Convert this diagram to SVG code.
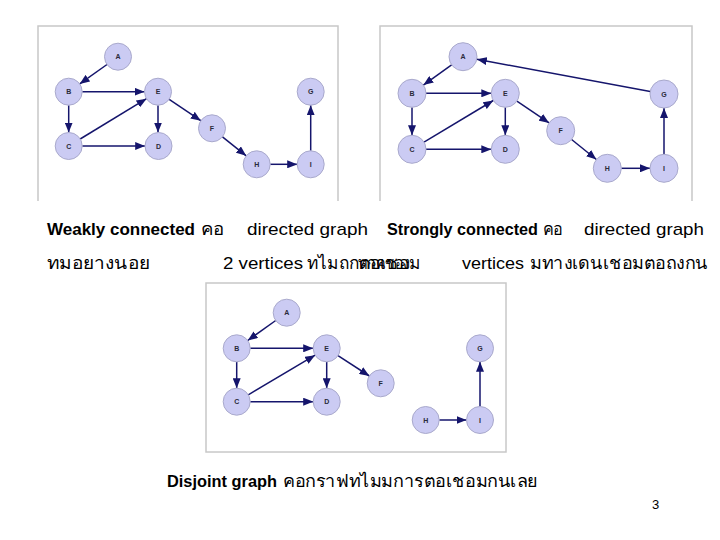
<svg xmlns="http://www.w3.org/2000/svg" width="720" height="540" viewBox="0 0 720 540">
<style>
.frame{fill:none;stroke:#c8c8c8;stroke-width:1.5}
.nd circle{fill:#cbcbf3;stroke:#a9a9cc;stroke-width:1}
.nd text{font-family:"Liberation Sans",Arial,sans-serif;font-size:7px;font-weight:bold;fill:#2a2a3a;text-anchor:middle}
.e line{stroke:#15156c;stroke-width:1.5;marker-end:url(#ah)}
.t{font-family:"Liberation Sans","DejaVu Sans","Noto Sans",sans-serif;font-size:17px;fill:#000}
.b{font-weight:bold;font-size:16px}
</style>
<defs>
<marker id="ah" markerUnits="userSpaceOnUse" markerWidth="10" markerHeight="8" refX="10" refY="4" orient="auto">
<path d="M0,0 L10,4 L0,8 z" fill="#15156c"/>
</marker>
</defs>
<rect width="720" height="540" fill="#fff"/>
<!-- frames -->
<path class="frame" d="M38,201 V26 H338 V201"/>
<path class="frame" d="M380,201 V26 H692 V201"/>
<rect class="frame" x="206" y="283" width="300" height="169"/>

<!-- graph 1 connectors -->
<g id="edges1" class="e">
<line x1="107" y1="64.5" x2="79.7" y2="83.9"/>
<line x1="82.2" y1="91.7" x2="144.5" y2="91.7"/>
<line x1="68.7" y1="105.2" x2="68.7" y2="132.5"/>
<line x1="80.2" y1="139" x2="146.5" y2="98.7"/>
<line x1="82.2" y1="146" x2="145.2" y2="146"/>
<line x1="158" y1="105.2" x2="158" y2="132.5"/>
<line x1="169.2" y1="99.3" x2="200.8" y2="120.7"/>
<line x1="222.5" y1="136.8" x2="246.2" y2="155.8"/>
<line x1="270.2" y1="164.3" x2="297.2" y2="164.3"/>
<line x1="310.7" y1="150.8" x2="310.7" y2="105.2"/>
</g>
<g id="g1A" class="nd"><circle cx="118" cy="56.7" r="13.5"/><text x="118" y="59.2">A</text></g>
<g id="g1B" class="nd"><circle cx="68.7" cy="91.7" r="13.5"/><text x="68.7" y="94.2">B</text></g>
<g id="g1E" class="nd"><circle cx="158" cy="91.7" r="13.5"/><text x="158" y="94.2">E</text></g>
<g id="g1C" class="nd"><circle cx="68.7" cy="146" r="13.5"/><text x="68.7" y="148.5">C</text></g>
<g id="g1D" class="nd"><circle cx="158.5" cy="146" r="13.5"/><text x="158.5" y="148.5">D</text></g>
<g id="g1F" class="nd"><circle cx="212" cy="128.3" r="13.5"/><text x="212" y="130.8">F</text></g>
<g id="g1H" class="nd"><circle cx="256.7" cy="164.3" r="13.5"/><text x="256.7" y="166.8">H</text></g>
<g id="g1I" class="nd"><circle cx="310.7" cy="164.3" r="13.5"/><text x="310.7" y="166.8">I</text></g>
<g id="g1G" class="nd"><circle cx="310.7" cy="91.7" r="13.5"/><text x="310.7" y="94.2">G</text></g>

<!-- graph 2 connectors -->
<g id="edges2" class="e">
<line x1="451.6" y1="64.9" x2="423.4" y2="85.1"/>
<line x1="426" y1="93.3" x2="491.3" y2="93.3"/>
<line x1="412" y1="107.3" x2="412" y2="135.3"/>
<line x1="424" y1="142.1" x2="493.3" y2="100.5"/>
<line x1="426" y1="149.3" x2="491.3" y2="149.3"/>
<line x1="505.3" y1="107.3" x2="505.3" y2="135.3"/>
<line x1="516.9" y1="101.1" x2="549.1" y2="122.9"/>
<line x1="571.6" y1="139.5" x2="596.4" y2="159.5"/>
<line x1="621.3" y1="168.3" x2="650" y2="168.3"/>
<line x1="664" y1="154.3" x2="664" y2="108"/>
<line x1="650.2" y1="91.4" x2="476.8" y2="59.3"/>
</g>
<g id="g2A" class="nd"><circle cx="463" cy="56.7" r="14"/><text x="463" y="59.2">A</text></g>
<g id="g2B" class="nd"><circle cx="412" cy="93.3" r="14"/><text x="412" y="95.8">B</text></g>
<g id="g2E" class="nd"><circle cx="505.3" cy="93.3" r="14"/><text x="505.3" y="95.8">E</text></g>
<g id="g2C" class="nd"><circle cx="412" cy="149.3" r="14"/><text x="412" y="151.8">C</text></g>
<g id="g2D" class="nd"><circle cx="505.3" cy="149.3" r="14"/><text x="505.3" y="151.8">D</text></g>
<g id="g2F" class="nd"><circle cx="560.7" cy="130.7" r="14"/><text x="560.7" y="133.2">F</text></g>
<g id="g2H" class="nd"><circle cx="607.3" cy="168.3" r="14"/><text x="607.3" y="170.8">H</text></g>
<g id="g2I" class="nd"><circle cx="664" cy="168.3" r="14"/><text x="664" y="170.8">I</text></g>
<g id="g2G" class="nd"><circle cx="664" cy="94" r="14"/><text x="664" y="96.5">G</text></g>

<!-- graph 3 connectors -->
<g id="edges3" class="e">
<line x1="275.7" y1="320.5" x2="247.7" y2="340.5"/>
<line x1="250.2" y1="348.3" x2="313.2" y2="348.3"/>
<line x1="236.7" y1="361.8" x2="236.7" y2="388.2"/>
<line x1="248.3" y1="394.8" x2="315.1" y2="355.2"/>
<line x1="250.2" y1="401.7" x2="313.2" y2="401.7"/>
<line x1="326.7" y1="361.8" x2="326.7" y2="388.2"/>
<line x1="338" y1="355.6" x2="369.4" y2="376"/>
<line x1="439.2" y1="420" x2="466.5" y2="420"/>
<line x1="480" y1="406.5" x2="480" y2="361.8"/>
</g>
<g id="g3A" class="nd"><circle cx="286.7" cy="312.7" r="13.5"/><text x="286.7" y="315.2">A</text></g>
<g id="g3B" class="nd"><circle cx="236.7" cy="348.3" r="13.5"/><text x="236.7" y="350.8">B</text></g>
<g id="g3E" class="nd"><circle cx="326.7" cy="348.3" r="13.5"/><text x="326.7" y="350.8">E</text></g>
<g id="g3C" class="nd"><circle cx="236.7" cy="401.7" r="13.5"/><text x="236.7" y="404.2">C</text></g>
<g id="g3D" class="nd"><circle cx="326.7" cy="401.7" r="13.5"/><text x="326.7" y="404.2">D</text></g>
<g id="g3F" class="nd"><circle cx="380.7" cy="383.3" r="13.5"/><text x="380.7" y="385.8">F</text></g>
<g id="g3H" class="nd"><circle cx="425.7" cy="420" r="13.5"/><text x="425.7" y="422.5">H</text></g>
<g id="g3I" class="nd"><circle cx="480" cy="420" r="13.5"/><text x="480" y="422.5">I</text></g>
<g id="g3G" class="nd"><circle cx="480" cy="348.3" r="13.5"/><text x="480" y="350.8">G</text></g>

<!-- captions -->
<g id="captions">
<text class="t b" x="47" y="235" textLength="148" lengthAdjust="spacingAndGlyphs">Weakly connected</text>
<text class="t" x="201" y="235" textLength="23" lengthAdjust="spacingAndGlyphs">คอ</text>
<text class="t" x="247" y="235" textLength="121" lengthAdjust="spacingAndGlyphs">directed graph</text>
<text class="t b" x="387" y="235" textLength="151" lengthAdjust="spacingAndGlyphs">Strongly connected</text>
<text class="t" x="543" y="235" textLength="20" lengthAdjust="spacingAndGlyphs">คอ</text>
<text class="t" x="584" y="235" textLength="120" lengthAdjust="spacingAndGlyphs">directed graph</text>

<text class="t" x="47" y="269" textLength="103" lengthAdjust="spacingAndGlyphs">ทมอยางนอย</text>
<text class="t" x="223" y="269" textLength="80" lengthAdjust="spacingAndGlyphs">2 vertices</text>
<text class="t" x="307" y="269" textLength="113" lengthAdjust="spacingAndGlyphs">ทไมถกตอเชอม</text>
<text class="t" x="358" y="269" textLength="52" lengthAdjust="spacingAndGlyphs">ทกคของ</text>
<text class="t" x="462" y="269" textLength="62" lengthAdjust="spacingAndGlyphs">vertices</text>
<text class="t" x="530" y="269" textLength="178" lengthAdjust="spacingAndGlyphs">มทางเดนเชอมตอถงกน</text>

<text class="t b" x="167" y="487" textLength="110" lengthAdjust="spacingAndGlyphs">Disjoint graph</text>
<text class="t" x="283" y="487" textLength="255" lengthAdjust="spacingAndGlyphs">คอกราฟทไมมการตอเชอมกนเลย</text>
<text class="t" x="652" y="509" font-size="13" style="font-size:13px">3</text>
</g>
</svg>
